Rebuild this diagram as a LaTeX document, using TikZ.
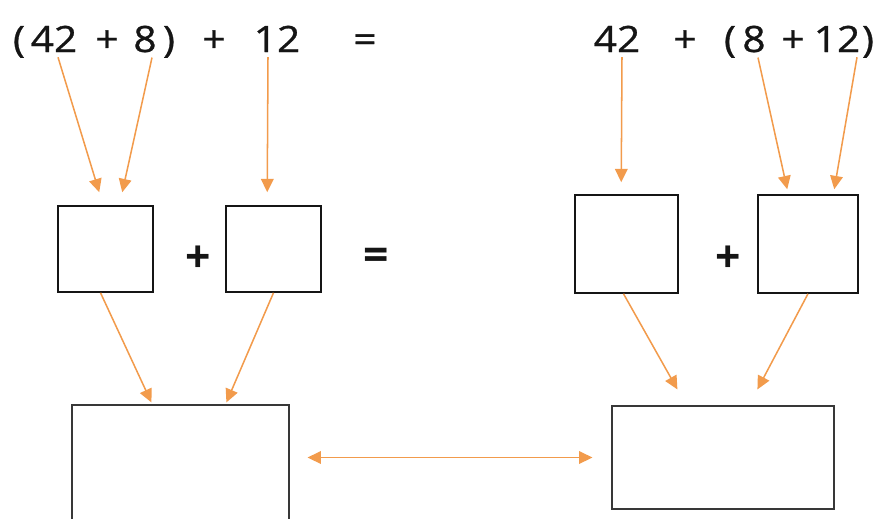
\documentclass[tikz,border=0pt]{standalone}
\usepackage{fontspec}
\setmainfont{Open Sans}
\newfontfamily\sumfont[FakeStretch=1.12,FakeBold=0.8]{Open Sans}
\usetikzlibrary{arrows.meta,calc}
\definecolor{SumInk}{HTML}{151515}
\definecolor{SumOrange}{HTML}{F29B4C}

\begin{document}
\begin{tikzpicture}[x=0.03cm,y=-0.03cm,>=Triangle]
  \tikzset{
    term/.style={inner sep=0pt,anchor=base,text=SumInk,font=\sumfont\fontsize{31}{36}\selectfont},
    sign/.style={inner sep=0pt,text=SumInk,font=\fontsize{38}{40}\selectfont\bfseries},
    slot/.style={draw=SumInk,line width=1.3pt,inner sep=0pt},
    result/.style={draw=SumInk!85,line width=1pt,inner sep=0pt},
    flow/.style={-{Triangle[length=4mm,width=3.8mm]},line width=1.3pt,draw=SumOrange},
    twoway/.style={{Triangle[length=4mm,width=3.8mm]}-{Triangle[length=4mm,width=3.8mm]},
      line width=1.2pt,draw=SumOrange}
  }
  \useasboundingbox (0,0) rectangle (886,518);
  % (42 + 8) + 12 =
  \node[term] (lpa) at (19,52) {(};
  \node[term] (a42) at (54,52) {42};
  \node[term] (plusa) at (107,52) {+};
  \node[term] (a8) at (145,52) {8};
  \node[term] (rpa) at (169,52) {)};
  \node[term] (plusb) at (214,52) {+};
  \node[term] (a12) at (277,52) {12};
  \node[term] (eqtop) at (365,52) {=};
  % 42 + (8 + 12)
  \node[term] (b42) at (617,52) {42};
  \node[term] (plusc) at (685,52) {+};
  \node[term] (lpb) at (730,52) {(};
  \node[term] (b8) at (754,52) {8};
  \node[term] (plusd) at (793,52) {+};
  \node[term] (b12) at (837,52) {12};
  \node[term] (rpb) at (868,52) {)};
  % empty boxes
  \node[slot,minimum width=2.85cm,minimum height=2.58cm] (L1) at (105.5,249) {};
  \node[sign] (plusl) at (198,259.5) {+};
  \node[slot,minimum width=2.85cm,minimum height=2.58cm] (L2) at (273.5,249) {};
  \node[sign] (eqmid) at (376,259.5) {=};
  \node[slot,minimum width=3.09cm,minimum height=2.94cm] (R1) at (626.5,244) {};
  \node[sign] (plusr) at (728,259) {+};
  \node[slot,minimum width=3cm,minimum height=2.94cm] (R2) at (808,244) {};
  \node[result,minimum width=6.51cm,minimum height=4.02cm] (BL) at (180.5,472) {};
  \node[result,minimum width=6.66cm,minimum height=3.09cm] (BR) at (723,457.5) {};
  % numbers into boxes
  \draw[flow] ($(a42.south)+(4,5)$) -- ($(L1.north west)+(42,-13)$);
  \draw[flow] ($(a8.south)+(7,5)$) -- ($(L1.north west)+(65,-13)$);
  \draw[flow] ($(a12.south)+(-9,5)$) -- ($(L2.north west)+(42,-13)$);
  \draw[flow] ($(b42.south)+(5,5)$) -- ($(R1.north west)+(47,-12)$);
  \draw[flow] ($(b8.south)+(4,5)$) -- ($(R2.north west)+(30,-5)$);
  \draw[flow] ($(b12.south)+(20,5)$) -- ($(R2.north west)+(77,-5)$);
  % boxes into sums
  \draw[flow] ($(L1.south)+(-5,0)$) -- ($(BL.north west)+(80,-2)$);
  \draw[flow] (L2.south) -- ($(BL.north west)+(155,-2)$);
  \draw[flow] ($(R1.south)+(-3,0)$) -- ($(BR.north west)+(66,-16)$);
  \draw[flow] (R2.south) -- ($(BR.north west)+(146,-16)$);
  \draw[twoway,shorten <=0.54cm,shorten >=0.57cm] (BL.east |- BR.west) -- (BR.west);
\end{tikzpicture}
\end{document}
